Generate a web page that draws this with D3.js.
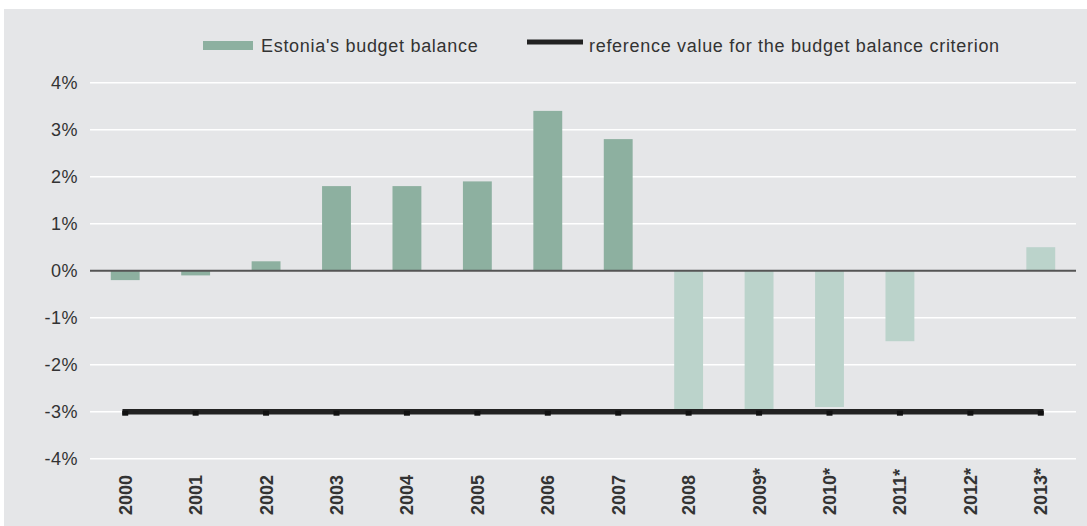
<!DOCTYPE html>
<html>
<head>
<meta charset="utf-8">
<script src="https://cdn.jsdelivr.net/npm/d3@7"></script>
<style>
  body { margin: 0; background: #fff; }
  text { font-family: "Liberation Sans", Arial, sans-serif; fill: #333; }
</style>
</head>
<body>
<script>
const width = 1087;
const height = 526;

// Datos
const years = ["2000", "2001", "2002", "2003", "2004", "2005", "2006", "2007",
               "2008", "2009*", "2010*", "2011*", "2012*", "2013*"];
const balance = [-0.2, -0.1, 0.2, 1.8, 1.8, 1.9, 3.4, 2.8,
                 -3.0, -3.0, -2.9, -1.5, 0, 0.5];
const reference = [-3, -3, -3, -3, -3, -3, -3, -3, -3, -3, -3, -3, -3, -3];
const yTicks = [4, 3, 2, 1, 0, -1, -2, -3, -4];
const seriesNames = ["Estonia's budget balance", "reference value for the budget balance criterion"];

const svg = d3.select("body")
    .append("svg")
    .attr("width", width)
    .attr("height", height);

// Fondo gris
svg.append("rect")
    .attr("x", 4)
    .attr("y", 9)
    .attr("width", width - 4)
    .attr("height", height - 9)
    .attr("fill", "#e5e6e8");

const x = d3.scaleBand()
    .domain(years)
    .range([90, 1076])
    .paddingInner(0.59)
    .paddingOuter(0.295);

const y = d3.scaleLinear()
    .domain([-4, 4])
    .range([458.7, 82.7]);

// Líneas de la cuadrícula
svg.append("g")
    .selectAll("line")
    .data(yTicks.filter(d => d !== 0))
    .enter()
    .append("line")
    .attr("x1", 90)
    .attr("x2", 1076)
    .attr("y1", d => y(d))
    .attr("y2", d => y(d))
    .attr("stroke", "#fff")
    .attr("stroke-width", 1.5);

// Eje Y
const yAxis = svg.append("g")
    .attr("transform", "translate(78,0)")
    .call(d3.axisLeft(y).tickValues(yTicks).tickSize(0).tickPadding(0).tickFormat(d => d + "%"));
yAxis.select(".domain").remove();
yAxis.selectAll("text")
    .attr("font-family", "Liberation Sans, Arial, sans-serif")
    .attr("font-size", "18px")
    .attr("letter-spacing", "0.5px")
    .attr("fill", "#333");

// Barras
const lightIndex = years.indexOf("2008");
svg.append("g")
    .selectAll("rect")
    .data(years.map((d, i) => ({ year: d, value: balance[i], i: i })))
    .enter()
    .append("rect")
    .attr("x", d => x(d.year))
    .attr("width", x.bandwidth())
    .attr("y", d => y(Math.max(0, d.value)))
    .attr("height", d => Math.abs(y(d.value) - y(0)))
    .attr("fill", d => d.i >= lightIndex ? "#bbd3cb" : "#8db0a0");

// Línea del cero
svg.append("line")
    .attr("x1", 90)
    .attr("x2", 1076)
    .attr("y1", y(0))
    .attr("y2", y(0))
    .attr("stroke", "#555")
    .attr("stroke-width", 2);

// Línea de referencia
const line = d3.line()
    .x((d, i) => x(years[i]) + x.bandwidth() / 2)
    .y(d => y(d));

svg.append("path")
    .datum(reference)
    .attr("d", line)
    .attr("fill", "none")
    .attr("stroke", "#222")
    .attr("stroke-width", 5.5)
    .attr("stroke-linecap", "square");

svg.append("g")
    .selectAll("rect")
    .data(reference)
    .enter()
    .append("rect")
    .attr("x", (d, i) => x(years[i]) + x.bandwidth() / 2 - 3)
    .attr("y", d => y(d) - 1)
    .attr("width", 6)
    .attr("height", 5)
    .attr("fill", "#111");

// Etiquetas del eje X
svg.append("g")
    .selectAll("text")
    .data(years)
    .enter()
    .append("text")
    .attr("transform", d => `translate(${x(d) + x.bandwidth() / 2},515) rotate(-90)`)
    .attr("dy", "0.36em")
    .attr("text-anchor", "start")
    .attr("font-size", "18px")
    .attr("font-weight", "bold")
    .text(d => d);

// Leyenda
const legend = svg.append("g");
legend.append("rect")
    .attr("x", 203)
    .attr("y", 41)
    .attr("width", 50)
    .attr("height", 9)
    .attr("fill", "#8db0a0");
legend.append("text")
    .attr("x", 261)
    .attr("y", 52)
    .attr("font-size", "18px")
    .attr("letter-spacing", "0.7px")
    .text(seriesNames[0]);
legend.append("line")
    .attr("x1", 527)
    .attr("x2", 583)
    .attr("y1", 42)
    .attr("y2", 42)
    .attr("stroke", "#222")
    .attr("stroke-width", 5);
legend.append("text")
    .attr("x", 589)
    .attr("y", 52)
    .attr("font-size", "18px")
    .attr("letter-spacing", "0.7px")
    .text(seriesNames[1]);
</script>
</body>
</html>
